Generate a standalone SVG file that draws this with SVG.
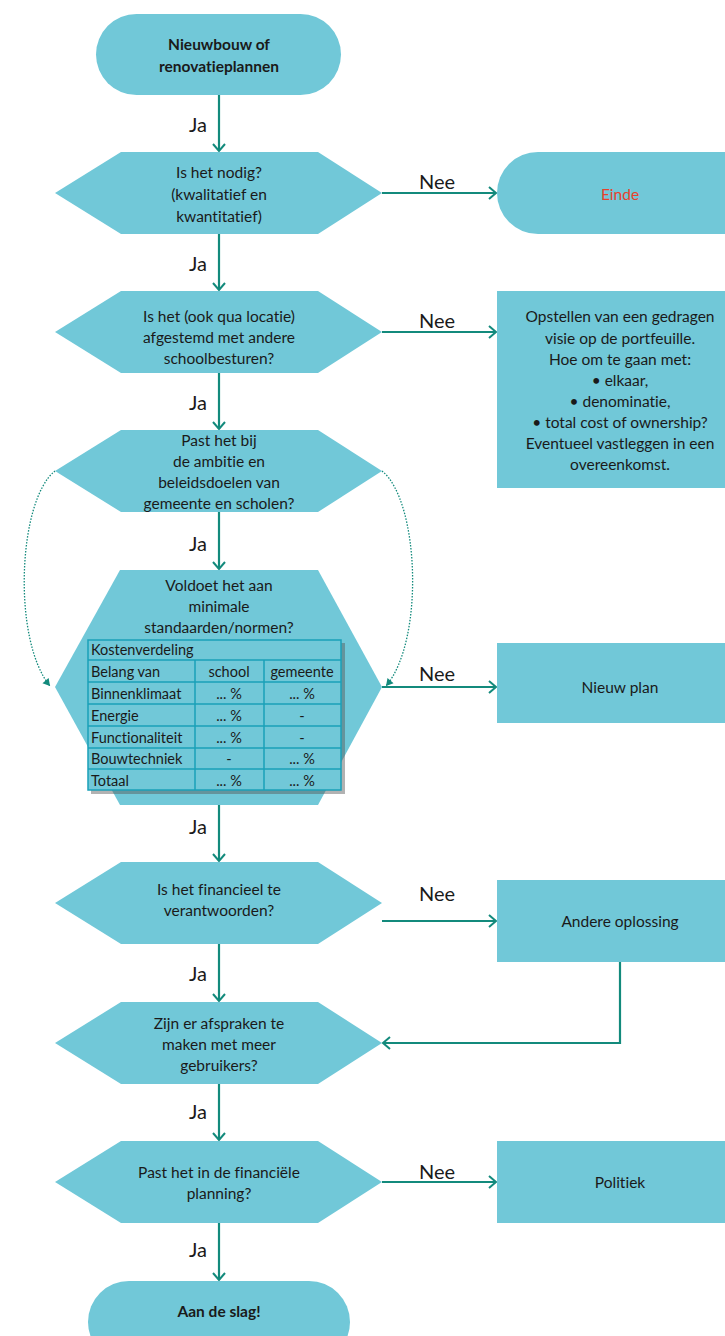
<svg xmlns="http://www.w3.org/2000/svg" width="725" height="1336" viewBox="0 0 725 1336">
<style>
.n{fill:#71c8d8;stroke:none}
text{font-variant-ligatures:none}
.t{font-family:Lato,"Open Sans",sans-serif;font-size:15.5px;fill:#1a1a1a;text-anchor:middle}
.b{font-weight:bold}
.l{font-family:Lato,"Open Sans",sans-serif;font-size:20px;fill:#1a1a1a;text-anchor:middle}
.c{stroke:#138a7c;stroke-width:2.2;fill:none}
.d{stroke:#138a7c;stroke-width:1.3;fill:none;stroke-dasharray:1.5 1.5}
.tb{fill:none;stroke:#1aa0b8;stroke-width:1.5}
.tt{font-family:Lato,"Open Sans",sans-serif;font-size:14.5px;fill:#1a1a1a}
.tc{text-anchor:middle}
</style>
<defs>
<marker id="a" markerWidth="14" markerHeight="14" refX="10" refY="7" orient="auto" markerUnits="userSpaceOnUse">
<path d="M3,1 L10,7 L3,13" fill="none" stroke="#138a7c" stroke-width="2"/>
</marker>
<marker id="as" markerWidth="10" markerHeight="10" refX="8" refY="5" orient="auto" markerUnits="userSpaceOnUse">
<path d="M1,1 L8,5 L1,9 Z" fill="#138a7c"/>
</marker>
</defs>

<g id="connectors">
<line class="c" x1="219" y1="95" x2="219" y2="151" marker-end="url(#a)"/>
<line class="c" x1="382" y1="193" x2="496" y2="193" marker-end="url(#a)"/>
<line class="c" x1="219" y1="234" x2="219" y2="290" marker-end="url(#a)"/>
<line class="c" x1="382" y1="332" x2="496" y2="332" marker-end="url(#a)"/>
<line class="c" x1="219" y1="373" x2="219" y2="429" marker-end="url(#a)"/>
<line class="c" x1="219" y1="512" x2="219" y2="569" marker-end="url(#a)"/>
<path class="d" d="M55,471 C18,500 12,640 50,686" marker-end="url(#as)"/>
<path class="d" d="M382,471 C419,500 425,640 386,686" marker-end="url(#as)"/>
<line class="c" x1="382" y1="687" x2="496" y2="687" marker-end="url(#a)"/>
<line class="c" x1="219" y1="805" x2="219" y2="861" marker-end="url(#a)"/>
<line class="c" x1="382" y1="921" x2="496" y2="921" marker-end="url(#a)"/>
<line class="c" x1="219" y1="944" x2="219" y2="1001" marker-end="url(#a)"/>
<polyline class="c" points="620,962 620,1043 383,1043" marker-end="url(#a)"/>
<line class="c" x1="219" y1="1084" x2="219" y2="1140" marker-end="url(#a)"/>
<line class="c" x1="382" y1="1182" x2="496" y2="1182" marker-end="url(#a)"/>
<line class="c" x1="219" y1="1223" x2="219" y2="1280" marker-end="url(#a)"/>
<text class="l" x="198" y="132">Ja</text>
<text class="l" x="437" y="189">Nee</text>
<text class="l" x="198" y="271">Ja</text>
<text class="l" x="437" y="328">Nee</text>
<text class="l" x="198" y="410">Ja</text>
<text class="l" x="198" y="551">Ja</text>
<text class="l" x="437" y="681">Nee</text>
<text class="l" x="198" y="834">Ja</text>
<text class="l" x="437" y="901">Nee</text>
<text class="l" x="198" y="981">Ja</text>
<text class="l" x="198" y="1119">Ja</text>
<text class="l" x="437" y="1179">Nee</text>
<text class="l" x="198" y="1257">Ja</text>
</g>

<g id="start">
<rect class="n" x="96" y="14" width="245" height="81" rx="40.5"/>
<text class="t b" x="219" y="50">Nieuwbouw of</text>
<text class="t b" x="219" y="72">renovatieplannen</text>
</g>

<g id="q1">
<polygon class="n" points="55,193 121,152 318,152 382,193 318,234 121,234"/>
<text class="t" x="219" y="178">Is het nodig?</text>
<text class="t" x="219" y="200">(kwalitatief en</text>
<text class="t" x="219" y="222">kwantitatief)</text>
</g>

<g id="einde">
<rect class="n" x="497" y="152" width="270" height="82" rx="41"/>
<text class="t" x="620" y="200" style="fill:#e8412c">Einde</text>
</g>

<g id="q2">
<polygon class="n" points="55,332 121,291 318,291 382,332 318,373 121,373"/>
<text class="t" x="219" y="322">Is het (ook qua locatie)</text>
<text class="t" x="219" y="343">afgestemd met andere</text>
<text class="t" x="219" y="364">schoolbesturen?</text>
</g>

<g id="visie">
<rect class="n" x="497" y="291" width="240" height="197"/>
<text class="t" x="620" y="322">Opstellen van een gedragen</text>
<text class="t" x="620" y="344">visie op de portfeuille.</text>
<text class="t" x="620" y="365">Hoe om te gaan met:</text>
<text class="t" x="620" y="386">• elkaar,</text>
<text class="t" x="620" y="407">• denominatie,</text>
<text class="t" x="620" y="428">• total cost of ownership?</text>
<text class="t" x="620" y="449">Eventueel vastleggen in een</text>
<text class="t" x="620" y="470">overeenkomst.</text>
</g>

<g id="q3">
<polygon class="n" points="55,471 121,430 318,430 382,471 318,512 121,512"/>
<text class="t" x="219" y="446">Past het bij</text>
<text class="t" x="219" y="467">de ambitie en</text>
<text class="t" x="219" y="488">beleidsdoelen van</text>
<text class="t" x="219" y="509">gemeente en scholen?</text>
</g>

<g id="q4">
<polygon class="n" points="55,687 120,570 318,570 382,687 318,805 120,805"/>
<text class="t" x="219" y="591">Voldoet het aan</text>
<text class="t" x="219" y="612">minimale</text>
<text class="t" x="219" y="633">standaarden/normen?</text>
<rect x="91" y="643" width="254" height="151" fill="#555" opacity="0.45"/>
<rect x="88" y="640" width="253" height="150" fill="#71c8d8"/>
<g class="tb">
<rect x="88" y="640" width="253" height="150"/>
<line x1="88" y1="660" x2="341" y2="660"/>
<line x1="88" y1="682" x2="341" y2="682"/>
<line x1="88" y1="704" x2="341" y2="704"/>
<line x1="88" y1="726" x2="341" y2="726"/>
<line x1="88" y1="748" x2="341" y2="748"/>
<line x1="88" y1="769" x2="341" y2="769"/>
<line x1="195" y1="660" x2="195" y2="790"/>
<line x1="264" y1="660" x2="264" y2="790"/>
</g>
<g class="tt">
<text x="91" y="655">Kostenverdeling</text>
<text x="91" y="677">Belang van</text>
<text x="91" y="699">Binnenklimaat</text>
<text x="91" y="721">Energie</text>
<text x="91" y="743">Functionaliteit</text>
<text x="91" y="764">Bouwtechniek</text>
<text x="91" y="786">Totaal</text>
<text class="tc" x="229" y="677">school</text>
<text class="tc" x="302" y="677">gemeente</text>
<text class="tc" x="229" y="699">... %</text>
<text class="tc" x="302" y="699">... %</text>
<text class="tc" x="229" y="721">... %</text>
<text class="tc" x="302" y="721">-</text>
<text class="tc" x="229" y="743">... %</text>
<text class="tc" x="302" y="743">-</text>
<text class="tc" x="229" y="764">-</text>
<text class="tc" x="302" y="764">... %</text>
<text class="tc" x="229" y="786">... %</text>
<text class="tc" x="302" y="786">... %</text>
</g>
</g>

<g id="nieuwplan">
<rect class="n" x="497" y="643" width="240" height="80"/>
<text class="t" x="620" y="693">Nieuw plan</text>
</g>

<g id="q5">
<polygon class="n" points="55,903 121,862 318,862 382,903 318,944 121,944"/>
<text class="t" x="219" y="895">Is het financieel te</text>
<text class="t" x="219" y="916">verantwoorden?</text>
</g>

<g id="andere">
<rect class="n" x="497" y="880" width="240" height="82"/>
<text class="t" x="620" y="927">Andere oplossing</text>
</g>

<g id="q6">
<polygon class="n" points="55,1043 121,1002 318,1002 382,1043 318,1084 121,1084"/>
<text class="t" x="219" y="1029">Zijn er afspraken te</text>
<text class="t" x="219" y="1050">maken met meer</text>
<text class="t" x="219" y="1071">gebruikers?</text>
</g>

<g id="q7">
<polygon class="n" points="55,1182 121,1141 318,1141 382,1182 318,1223 121,1223"/>
<text class="t" x="219" y="1178">Past het in de financiële</text>
<text class="t" x="219" y="1199">planning?</text>
</g>

<g id="politiek">
<rect class="n" x="497" y="1141" width="240" height="82"/>
<text class="t" x="620" y="1188">Politiek</text>
</g>

<g id="end">
<rect class="n" x="88" y="1281" width="262" height="82" rx="41"/>
<text class="t b" x="219" y="1317">Aan de slag!</text>
</g>
</svg>
